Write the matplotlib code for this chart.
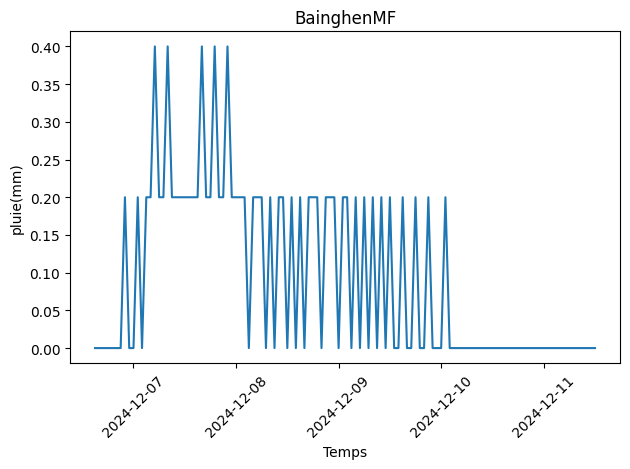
import pandas as pd
import matplotlib
matplotlib.use('Agg')
import matplotlib.pyplot as plt

# Relevés horaires (mm) à partir du 2024-12-06 15:00
start = '2024-12-06 15:00'
pluie = [
    0, 0, 0, 0, 0, 0, 0,
    0.2, 0, 0, 0.2, 0, 0.2, 0.2, 0.4, 0.2, 0.2, 0.4,
    0.2, 0.2, 0.2, 0.2, 0.2, 0.2, 0.2,
    0.4, 0.2, 0.2, 0.4, 0.2, 0.2, 0.4,
    0.2, 0.2, 0.2, 0.2, 0, 0.2, 0.2, 0.2, 0, 0.2, 0, 0.2, 0.2, 0, 0.2, 0, 0.2, 0,
    0.2, 0.2, 0.2, 0, 0.2, 0.2, 0.2, 0, 0.2, 0.2, 0,
    0.2, 0, 0.2, 0, 0.2, 0, 0.2, 0, 0.2, 0, 0,
    0.2, 0, 0, 0.2, 0, 0, 0.2, 0, 0, 0, 0.2,
] + [0] * 35

temps = pd.date_range(start, periods=len(pluie), freq='h')

fig, ax = plt.subplots(figsize=(6.4, 4.8), dpi=100)
ax.plot(temps, pluie)
ax.set_title('BainghenMF')
ax.set_xlabel('Temps')
ax.set_ylabel('pluie(mm)')
plt.xticks(rotation=45)
plt.tight_layout()
plt.savefig('out.png', dpi=100, bbox_inches='tight')
